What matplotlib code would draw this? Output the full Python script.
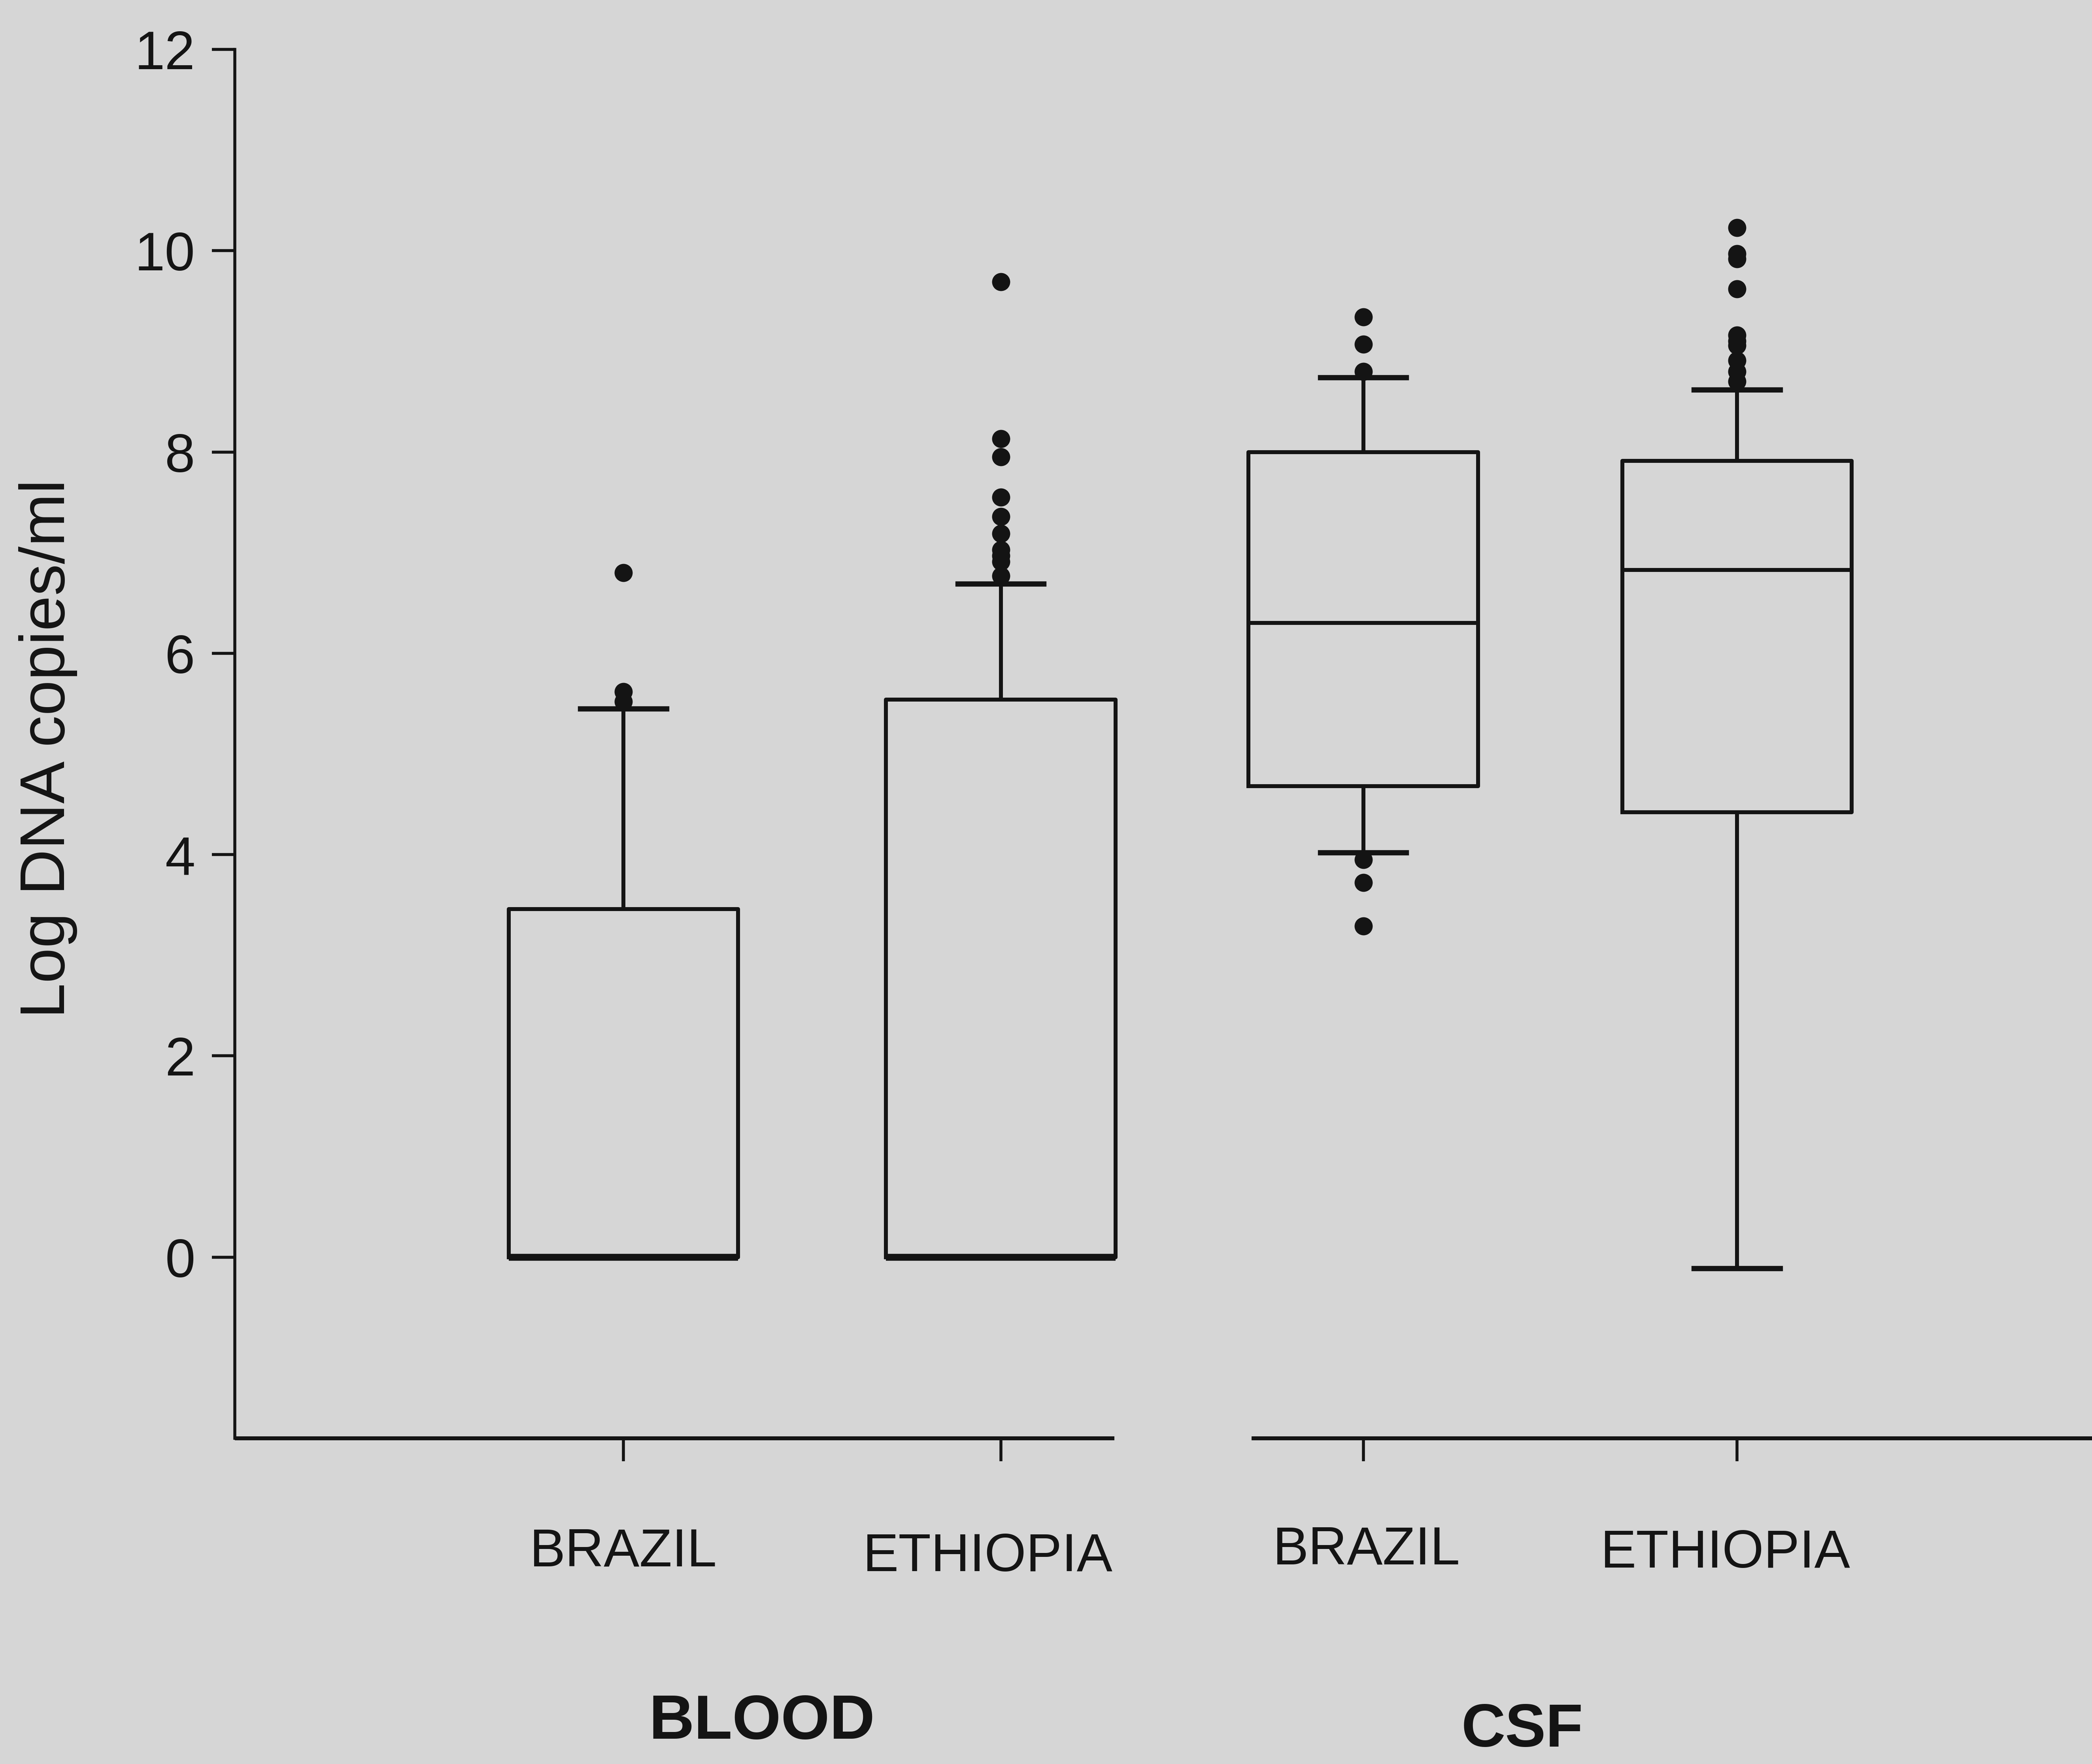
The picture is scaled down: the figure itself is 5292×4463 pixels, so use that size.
import numpy as np
import matplotlib
matplotlib.use("Agg")
import matplotlib.pyplot as plt
from matplotlib.transforms import ScaledTranslation

# log DNA copies/ml, blood and CSF, per country
groups = ["BLOOD", "BLOOD", "CSF", "CSF"]
countries = ["BRAZIL", "ETHIOPIA", "BRAZIL", "ETHIOPIA"]
q1 = [0.0, 0.0, 4.68, 4.42]
median = [0.0, 0.0, 6.30, 6.83]
q3 = [3.46, 5.54, 8.00, 7.91]
whisker_lo = [0.0, 0.0, 4.02, -0.11]
whisker_hi = [5.45, 6.69, 8.74, 8.62]
outliers = [
    [6.80, 5.62, 5.52],
    [9.69, 8.13, 7.95, 7.55, 7.36, 7.19, 7.03, 6.97, 6.91, 6.77],
    [9.34, 9.07, 8.80, 3.95, 3.72, 3.29],
    [10.23, 9.97, 9.92, 9.62, 9.16, 9.10, 9.06, 8.91, 8.80, 8.70],
]
yticks = [0, 2, 4, 6, 8, 10, 12]

# layout
positions = [1.04, 2.05, 3.02, 4.02]
label_shift_pt = [(0, 0), (-8, -3), (2, 1), (-7, -1)]
x_break = (2.354, 2.721)
x_max = 4.97
y_min, y_max = -1.8, 12.0

bg = "#d6d6d6"
ink = "#141414"
plt.rcParams["font.family"] = ["Liberation Sans", "DejaVu Sans"]

fig = plt.figure(figsize=(5292 / 300, 4463 / 300), dpi=300, facecolor=bg)
ax = fig.add_axes([0.1122, 0.1846, 1.0 - 0.1122, 0.972 - 0.1846])
ax.set_facecolor(bg)

stats = []
for i in range(len(countries)):
    stats.append(dict(med=median[i], q1=q1[i], q3=q3[i],
                      whislo=whisker_lo[i], whishi=whisker_hi[i],
                      fliers=outliers[i], label=countries[i]))

art = ax.bxp(stats, positions=positions, widths=0.614, capwidths=0.23,
             showfliers=True, patch_artist=False,
             boxprops=dict(color=ink, linewidth=2.4),
             whiskerprops=dict(color=ink, linewidth=2.4),
             capprops=dict(color=ink, linewidth=3.2),
             medianprops=dict(color=ink, linewidth=2.4),
             flierprops=dict(marker="o", markersize=10, markerfacecolor=ink,
                             markeredgecolor=ink, linestyle="none"))

# medians sitting on the box floor look heavier
for m, lo, med in zip(art["medians"], q1, median):
    if lo == med:
        m.set_linewidth(4.2)

ax.set_xlim(0, x_max)
ax.set_ylim(y_min, y_max)
ax.set_yticks(yticks)
ax.set_yticklabels([str(t) for t in yticks])
ax.set_xticks(positions)
ax.set_xticklabels(countries)

for side in ["top", "right", "bottom"]:
    ax.spines[side].set_visible(False)
ax.spines["left"].set_linewidth(1.8)
ax.spines["left"].set_color(ink)

# broken x axis drawn as two segments
ax.plot([0, x_break[0]], [y_min, y_min], color=ink, lw=2.4, clip_on=False,
        solid_capstyle="butt")
ax.plot([x_break[1], x_max], [y_min, y_min], color=ink, lw=2.4, clip_on=False,
        solid_capstyle="butt")

ax.tick_params(axis="y", direction="out", length=14, width=1.8, color=ink,
               labelsize=33, pad=10, labelcolor=ink)
ax.tick_params(axis="x", direction="out", length=14, width=1.8, color=ink,
               labelsize=32.5, pad=40, labelcolor=ink)

for lbl, (dx, dy) in zip(ax.get_xticklabels(), label_shift_pt):
    lbl.set_transform(lbl.get_transform() +
                      ScaledTranslation(dx / 72, dy / 72, fig.dpi_scale_trans))

fig.text(36 / 1568, 1 - 561 / 1322, "Log DNA copies/ml", rotation=90,
         ha="center", va="center", fontsize=38.5, color=ink)
fig.text(571 / 1568, 1 - 1291 / 1322, "BLOOD", ha="center", va="center",
         fontsize=38, fontweight="bold", color=ink)
fig.text(1141 / 1568, 1 - 1297 / 1322, "CSF", ha="center", va="center",
         fontsize=37, fontweight="bold", color=ink)

fig.savefig("out.png", dpi=300, facecolor=bg)
